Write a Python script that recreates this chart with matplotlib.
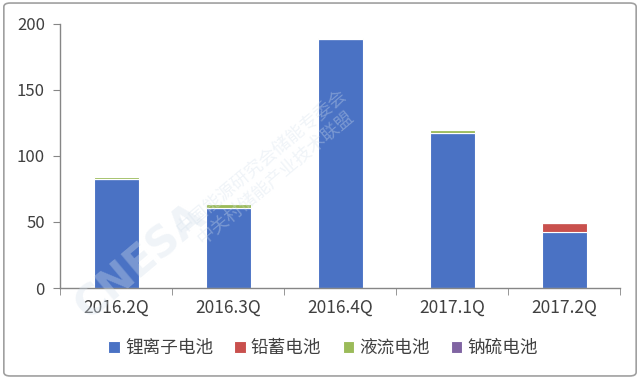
import matplotlib
matplotlib.use("Agg")
import matplotlib.pyplot as plt
import numpy as np
from matplotlib.patches import FancyBboxPatch

plt.rcParams['font.family'] = ['Noto Sans CJK SC', 'DejaVu Sans']

# data
quarters = ["2016.2Q", "2016.3Q", "2016.4Q", "2017.1Q", "2017.2Q"]
series_names = ["锂离子电池", "铅蓄电池", "液流电池", "钠硫电池"]
li_ion = [82.5, 60.5, 188.5, 117.5, 42.5]
lead_acid = [0, 0, 0, 0, 6.5]
flow = [1.5, 3.0, 0.8, 2.0, 0]
nas = [0, 0, 0, 0, 0]
colors = ["#4a72c4", "#c9504d", "#9bbb59", "#8064a2"]

fig = plt.figure(figsize=(6.4, 3.79), dpi=100)
ax = fig.add_axes([0.094, 0.240, 0.875, 0.697])

x = np.arange(len(quarters))
bottom = np.zeros(len(quarters))
for name, vals, c in zip(series_names, [li_ion, lead_acid, flow, nas], colors):
    vals = np.array(vals, dtype=float)
    ax.bar(x, vals, 0.4, bottom=bottom, color=c, edgecolor="white",
           linewidth=0.8, label=name, zorder=2)
    bottom += vals

ax.set_xlim(-0.5, len(quarters) - 0.5)
ax.set_ylim(0, 200)
ax.set_yticks([0, 50, 100, 150, 200])
ax.set_xticks(x)
ax.set_xticklabels(quarters)
ax.set_xticks(np.arange(-0.5, len(quarters)), minor=True)
ax.tick_params(axis="x", which="major", length=0, pad=8, labelsize=12.5, colors="#404040")
ax.tick_params(axis="x", which="minor", length=5, color="#868686")
ax.tick_params(axis="y", length=5, color="#868686", labelsize=12, labelcolor="#404040", pad=6)
for s in ["top", "right"]:
    ax.spines[s].set_visible(False)
for s in ["left", "bottom"]:
    ax.spines[s].set_color("#868686")
    ax.spines[s].set_linewidth(1.0)

# faint watermark
fig.text(0.22, 0.31, "CNESA", fontsize=30, fontweight="bold", color="#d4e0ec",
         alpha=0.35, rotation=40, ha="center", va="center", zorder=0, family="DejaVu Sans")
fig.text(0.42, 0.55, "中国能源研究会储能专委会\n中关村储能产业技术联盟", fontsize=13,
         color="#d4e0ec", alpha=0.35, rotation=40, ha="center", va="center",
         linespacing=1.2)

leg = fig.legend(loc="center", bbox_to_anchor=(0.505, 0.082), ncol=4, frameon=False,
                 fontsize=12.7, handlelength=0.65, handleheight=0.65, handletextpad=0.3,
                 columnspacing=1.2)
for t in leg.get_texts():
    t.set_color("#404040")

frame = FancyBboxPatch((0.006, 0.008), 0.988, 0.984, boxstyle="round,pad=0,rounding_size=0.01",
                       transform=fig.transFigure, fill=False, edgecolor="#a0a0a0", linewidth=1.2)
fig.patches.append(frame)

fig.savefig("out.png", dpi=100)
